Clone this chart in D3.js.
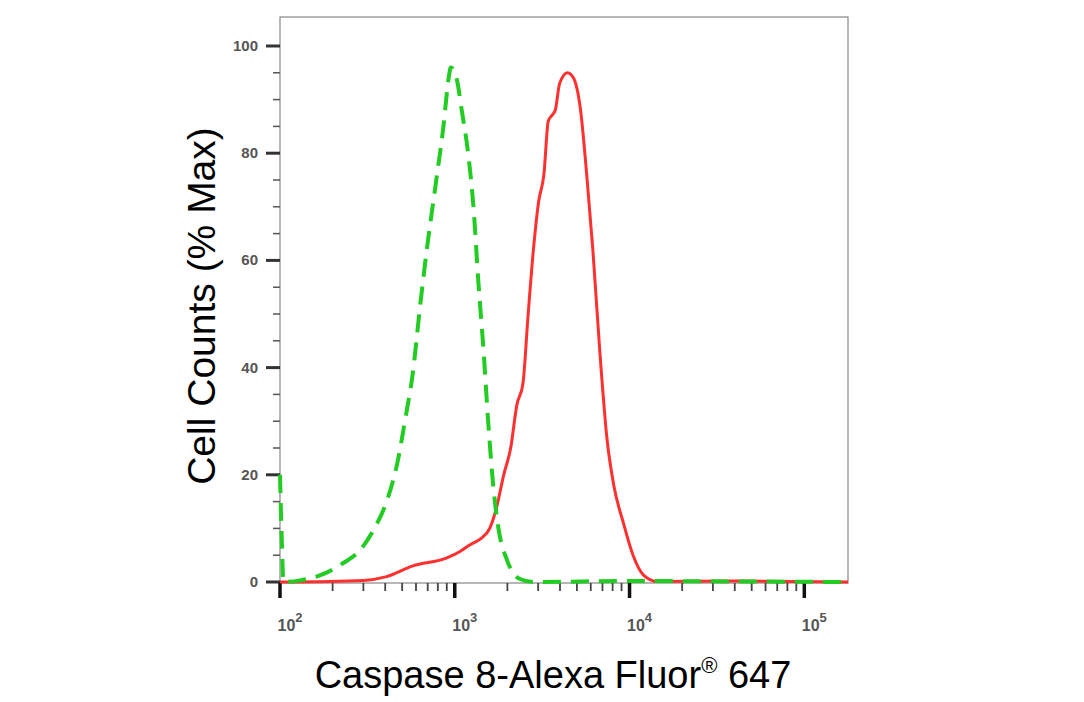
<!DOCTYPE html>
<html>
<head>
<meta charset="utf-8">
<script src="https://cdn.jsdelivr.net/npm/d3@7"></script>
<style>
  body { margin: 0; background: #fff; }
  text { font-family: "Liberation Sans", Arial, sans-serif; }
</style>
</head>
<body>
<div id="chart"></div>
<script>
// log10 of intensity and % max
var greenLog = [2.0, 2.01, 2.02, 2.115, 2.25, 2.36, 2.46, 2.54, 2.61, 2.67, 2.72, 2.76, 2.80, 2.84, 2.89, 2.935, 2.965, 2.977, 3.01, 3.04, 3.08, 3.107, 3.135, 3.165, 3.19, 3.22, 3.25, 3.30, 3.37, 3.45, 4.0, 4.6, 5.25];
var greenVal = [20, 8, 0, 0.3, 1.5, 3.5, 6, 10, 15, 22, 31, 39, 51, 62, 74, 85, 94, 96, 94, 88, 79, 70, 56, 43, 30.5, 18, 10, 4, 0.6, 0, 0.2, 0.1, 0];

var redLog = [2.0, 2.48, 2.61, 2.76, 2.955, 3.03, 3.09, 3.145, 3.20, 3.24, 3.28, 3.32, 3.355, 3.39, 3.42, 3.45, 3.48, 3.51, 3.535, 3.555, 3.575, 3.60, 3.645, 3.68, 3.72, 3.755, 3.79, 3.83, 3.87, 3.91, 3.965, 4.02, 4.08, 4.16, 4.6, 5.25];
var redVal = [0, 0.3, 1, 3, 4.5, 5.7, 7, 8, 10, 14, 20, 25, 33, 37, 50, 62, 71, 76, 86, 87, 88, 93, 95, 94, 88, 76, 62, 43, 27, 18, 11, 5, 1.3, 0.1, 0.2, 0];

var yTicks = [0, 20, 40, 60, 80, 100];
var xDecades = [2, 3, 4, 5];

var W = 1084, H = 702;
var pLeft = 280, pRight = 848, pTop = 17, pBottom = 583;

var svg = d3.select("#chart").append("svg").attr("width", W).attr("height", H);

var x = d3.scaleLinear().domain([2, 5.25]).range([pLeft, pRight]);
var y = d3.scaleLinear().domain([0, 100]).range([582, 46]);

// frame
svg.append("rect").attr("x", pLeft).attr("y", pTop)
    .attr("width", pRight - pLeft).attr("height", pBottom - pTop)
    .attr("fill", "none").attr("stroke", "#888").attr("stroke-width", 1.2);

// y axis ticks
var yMinor = d3.range(0, 101, 5);
svg.selectAll(".ym").data(yMinor).enter().append("line")
    .attr("x1", function (d) { return d % 20 == 0 ? pLeft - 14 : pLeft - 7; })
    .attr("x2", pLeft)
    .attr("y1", function (d) { return y(d); }).attr("y2", function (d) { return y(d); })
    .attr("stroke", function (d) { return d % 20 == 0 ? "#333" : "#555"; })
    .attr("stroke-width", function (d) { return d % 20 == 0 ? 3 : 1.5; });
svg.selectAll(".yl").data(yTicks).enter().append("text")
    .attr("x", pLeft - 22).attr("y", function (d) { return y(d) + 5; })
    .attr("text-anchor", "end").attr("font-size", 15).attr("font-weight", "bold")
    .attr("fill", "#555").text(function (d) { return d; });

// x axis ticks
var xMinor = [];
xDecades.forEach(function (k) {
    for (var m = 1; m < 10; m++) {
        var v = k + Math.log10(m);
        if (v <= 5.25) xMinor.push({ v: v, major: m == 1 });
    }
});
svg.selectAll(".xm").data(xMinor).enter().append("line")
    .attr("x1", function (d) { return x(d.v); }).attr("x2", function (d) { return x(d.v); })
    .attr("y1", pBottom).attr("y2", function (d) { return d.major ? pBottom + 15 : pBottom + 8; })
    .attr("stroke", function (d) { return d.major ? "#111" : "#444"; })
    .attr("stroke-width", function (d) { return d.major ? 3.5 : 1.8; });
var xl = svg.selectAll(".xl").data(xDecades).enter().append("text")
    .attr("x", function (d) { return x(d) + 10; }).attr("y", pBottom + 48)
    .attr("text-anchor", "middle").attr("font-size", 16).attr("font-weight", "bold")
    .attr("fill", "#555");
xl.append("tspan").text("10");
xl.append("tspan").attr("dy", -9).attr("font-size", 13).text(function (d) { return d; });

// curves
var line = d3.line().x(function (d) { return x(d[0]); }).y(function (d) { return y(d[1]); })
    .curve(d3.curveMonotoneX);
svg.append("path").datum(d3.zip(redLog, redVal)).attr("d", line)
    .attr("fill", "none").attr("stroke", "#ff3030").attr("stroke-width", 3);
svg.append("path").datum(d3.zip(greenLog, greenVal)).attr("d", line)
    .attr("fill", "none").attr("stroke", "#22cc22").attr("stroke-width", 4)
    .attr("stroke-dasharray", "18,10");

// axis titles
svg.append("text").attr("transform", "translate(215,306) rotate(-90)")
    .attr("text-anchor", "middle").attr("font-size", 39).attr("fill", "#000")
    .text("Cell Counts (% Max)");
var xt = svg.append("text").attr("x", 553).attr("y", 688)
    .attr("text-anchor", "middle").attr("font-size", 38).attr("fill", "#000");
xt.append("tspan").text("Caspase 8-Alexa Fluor");
xt.append("tspan").attr("dy", -15).attr("font-size", 22).text("®");
xt.append("tspan").attr("dy", 15).text(" 647");
</script>
</body>
</html>
